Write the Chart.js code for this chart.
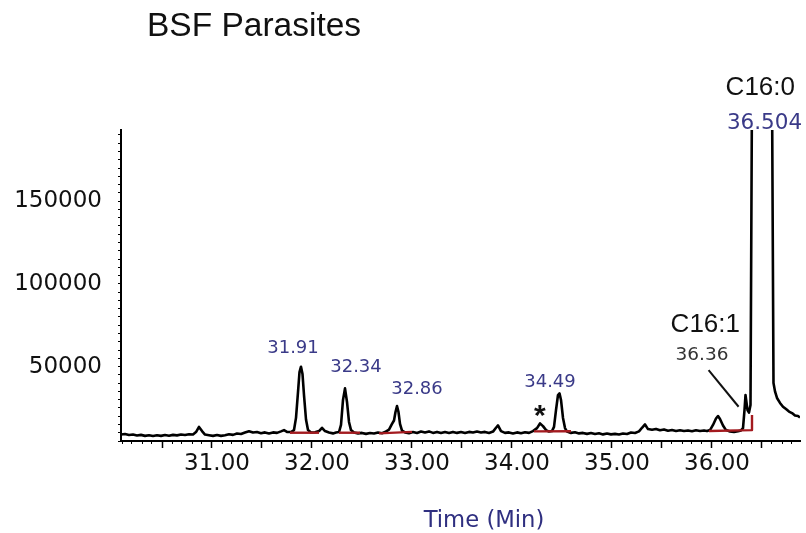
<!DOCTYPE html>
<html>
<head>
<meta charset="utf-8">
<title>BSF Parasites</title>
<script src="https://cdn.jsdelivr.net/npm/chart.js@4"></script>
<style>
  html, body { margin: 0; padding: 0; background: #fff; }
</style>
</head>
<body>
<canvas id="chromChart" width="806" height="533"></canvas>
<script>
// Chromatogram trace: retention time (min) and abundance
const chromTime = [
    30.09, 30.13, 30.17, 30.21, 30.25, 30.29, 30.33, 30.37, 30.41, 30.45,
    30.49, 30.53, 30.57, 30.61, 30.65, 30.69, 30.73, 30.77, 30.81, 30.84,
    30.87, 30.90, 30.93, 30.97, 31.01, 31.05, 31.09, 31.13, 31.17, 31.21,
    31.25, 31.29, 31.33, 31.37, 31.41, 31.45, 31.49, 31.53, 31.57, 31.61,
    31.65, 31.69, 31.72, 31.75, 31.79, 31.82, 31.84, 31.86, 31.875, 31.89,
    31.905, 31.92, 31.94, 31.96, 31.99, 32.03, 32.07, 32.10, 32.13, 32.17,
    32.21, 32.24, 32.27, 32.29, 32.31, 32.33, 32.35, 32.37, 32.39, 32.42,
    32.46, 32.50, 32.54, 32.58, 32.62, 32.66, 32.70, 32.73, 32.77, 32.80,
    32.82, 32.835, 32.85, 32.865, 32.88, 32.90, 32.93, 32.97, 33.01, 33.05,
    33.09, 33.13, 33.17, 33.21, 33.25, 33.29, 33.33, 33.37, 33.41, 33.45,
    33.49, 33.53, 33.57, 33.61, 33.65, 33.69, 33.73, 33.77, 33.81, 33.84,
    33.86, 33.89, 33.93, 33.97, 34.01, 34.05, 34.09, 34.13, 34.17, 34.21,
    34.25, 34.28, 34.31, 34.34, 34.37, 34.40, 34.42, 34.44, 34.46, 34.475,
    34.49, 34.51, 34.53, 34.55, 34.59, 34.63, 34.67, 34.71, 34.75, 34.79,
    34.83, 34.87, 34.91, 34.95, 34.99, 35.03, 35.07, 35.11, 35.15, 35.19,
    35.23, 35.27, 35.30, 35.33, 35.36, 35.40, 35.44, 35.48, 35.52, 35.56,
    35.60, 35.64, 35.68, 35.72, 35.76, 35.80, 35.84, 35.88, 35.92, 35.95,
    35.98, 36.01, 36.04, 36.06, 36.08, 36.11, 36.14, 36.18, 36.22, 36.26,
    36.29, 36.31, 36.325, 36.335, 36.355, 36.37, 36.385, 36.40, 36.45, 36.50,
    36.55, 36.60, 36.615, 36.63, 36.65, 36.68, 36.71, 36.74, 36.77, 36.80,
    36.83, 36.86, 36.88
];
const chromAbundance = [
    8900, 9200, 8600, 8900, 8300, 8700, 8100, 8500, 8000, 8500,
    8100, 8600, 8200, 8700, 8400, 8900, 8600, 9100, 8900, 10400,
    13500, 11000, 8900, 8500, 8100, 8600, 8100, 8500, 9100, 8700,
    9500, 9200, 10100, 10900, 10100, 10400, 9700, 10200, 9600, 10200,
    9900, 10800, 11600, 10500, 10400, 11600, 19000, 34600, 46700, 49900,
    45500, 32700, 18000, 11600, 10100, 10300, 11000, 13000, 11000, 10100,
    9600, 10100, 10400, 14700, 29800, 36800, 28600, 16500, 11600, 10100,
    9600, 9900, 9300, 9800, 9500, 10100, 9700, 10400, 11900, 15300,
    17400, 22500, 26100, 22500, 15300, 11300, 10200, 9700, 10400, 9800,
    10700, 10100, 10800, 9900, 10500, 9800, 10400, 9800, 10500, 9900,
    10400, 9800, 10500, 10100, 10700, 10100, 10500, 9900, 10700, 13000,
    14400, 11000, 9900, 10200, 9600, 10200, 9700, 10300, 9900, 11000,
    12800, 15600, 14000, 11600, 10700, 11000, 13500, 23700, 32800, 33800,
    29800, 18900, 12800, 10700, 9900, 10300, 9600, 9900, 9300, 9800,
    9200, 9700, 9000, 9500, 9000, 9300, 8900, 9500, 9200, 10100,
    9800, 10800, 13000, 15000, 12200, 11800, 12300, 11500, 12000, 11200,
    11600, 11000, 11500, 11000, 11400, 10900, 11500, 11000, 11400, 11000,
    11600, 14700, 18600, 20100, 18300, 14400, 11600, 10800, 10400, 10900,
    11400, 12800, 23700, 32800, 23700, 22200, 26700, 220000, 900000, 1250000,
    900000, 220000, 40000, 35000, 31000, 28000, 25700, 24300, 22800, 21900,
    20400, 20100, 19200
];

// Integration baselines (red), one [times, abundances] pair per peak group
const baselineTimes = [
    [31.78, 32.07],
    [32.27, 32.48],
    [32.67, 33.00],
    [34.22, 34.59],
    [35.97, 36.40, 36.40]
];
const baselineValues = [
    [10000, 10000],
    [10000, 10000],
    [9600, 10500],
    [10800, 10900],
    [11000, 11600, 20700]
];

// Axis ranges and ticks
const timeMin = 30.09, timeMax = 36.88;
const abundanceMin = 5000, abundanceMax = 193000;
const yTickValues = [
    5000, 10000, 15000, 20000, 25000, 30000, 35000, 40000, 45000, 50000,
    55000, 60000, 65000, 70000, 75000, 80000, 85000, 90000, 95000, 100000,
    105000, 110000, 115000, 120000, 125000, 130000, 135000, 140000, 145000, 150000,
    155000, 160000, 165000, 170000, 175000, 180000, 185000, 190000
];
const yLabelValues = [50000, 100000, 150000];

// Peak annotations: [text, time, abundance] at the centre of the text
const peakLabels = [
    ['31.91', 31.81, 62000],
    ['32.34', 32.44, 50600],
    ['32.86', 33.05, 37600],
    ['34.49', 34.38, 41400]
];
const mainPeakLabel = ['36.504', 36.525, 198200];
const compoundLabels = [
    ['C16:0', 36.483, 219600],
    ['C16:1', 35.933, 76600]
];
const minorPeakLabel = ['36.36', 35.90, 58200];
const markerLabel = ['*', 34.278, 21900];
const leaderLine = [[35.966, 47900], [36.266, 25700]];

function toPoints(times, values) {
    return times.map((t, i) => ({ x: t, y: values[i] }));
}

// Draws the hand-placed labels of the original figure
const notesPlugin = {
    id: 'chromNotes',
    afterDatasetsDraw(chart) {
        const ctx = chart.ctx;
        const xs = chart.scales.x;
        const ys = chart.scales.y;

        function text(str, t, v, family, size, color, weight, capRatio) {
            ctx.font = (weight || 'normal') + ' ' + size + 'px "' + family + '"';
            ctx.fillStyle = color;
            ctx.textAlign = 'center';
            ctx.textBaseline = 'alphabetic';
            ctx.fillText(str, xs.getPixelForValue(t), ys.getPixelForValue(v) + size * capRatio / 2);
        }

        ctx.save();
        peakLabels.forEach(p => text(p[0], p[1], p[2], 'DejaVu Sans', 18, '#3a3a88', 'normal', 0.73));
        text(mainPeakLabel[0], mainPeakLabel[1], mainPeakLabel[2], 'DejaVu Sans', 21.5, '#3a3a88', 'normal', 0.73);
        compoundLabels.forEach(p => text(p[0], p[1], p[2], 'Liberation Sans', 26, '#111', 'normal', 0.716));
        text(minorPeakLabel[0], minorPeakLabel[1], minorPeakLabel[2], 'DejaVu Sans', 18.5, '#333', 'normal', 0.73);
        text(markerLabel[0], markerLabel[1], markerLabel[2], 'Liberation Sans', 30, '#111', 'bold', 0.8);

        ctx.strokeStyle = '#111';
        ctx.lineWidth = 2;
        ctx.beginPath();
        ctx.moveTo(xs.getPixelForValue(leaderLine[0][0]), ys.getPixelForValue(leaderLine[0][1]));
        ctx.lineTo(xs.getPixelForValue(leaderLine[1][0]), ys.getPixelForValue(leaderLine[1][1]));
        ctx.stroke();

        // chart title and axis title
        ctx.fillStyle = '#111';
        ctx.font = '33.5px "Liberation Sans"';
        ctx.textAlign = 'left';
        ctx.textBaseline = 'alphabetic';
        ctx.fillText('BSF Parasites', 147, 36);

        ctx.fillStyle = '#2f2f80';
        ctx.font = '22.7px "DejaVu Sans"';
        ctx.textAlign = 'center';
        ctx.fillText('Time (Min)', 484, 527);
        ctx.restore();
    }
};

const datasets = [{
    label: 'TIC',
    data: toPoints(chromTime, chromAbundance),
    borderColor: '#000',
    borderWidth: 2.6,
    order: 2
}];
baselineTimes.forEach((times, i) => {
    datasets.push({
        label: 'baseline ' + (i + 1),
        data: toPoints(times, baselineValues[i]),
        borderColor: '#a31a1f',
        borderWidth: 2.4,
        order: 1
    });
});

const tickFont = { family: 'DejaVu Sans', size: 23 };

new Chart(document.getElementById('chromChart').getContext('2d'), {
    type: 'line',
    data: { datasets: datasets },
    options: {
        responsive: false,
        animation: false,
        layout: { padding: { top: 130, right: 6, left: 0, bottom: 0 } },
        elements: {
            point: { radius: 0 },
            line: { tension: 0, borderJoinStyle: 'round' }
        },
        plugins: {
            legend: { display: false },
            tooltip: { enabled: false },
            title: { display: false }
        },
        scales: {
            x: {
                type: 'linear',
                position: 'bottom',
                min: timeMin,
                max: timeMax,
                afterFit: scale => { scale.height = 92; },
                border: { color: '#000', width: 2 },
                grid: { drawOnChartArea: false, tickLength: 7, tickColor: '#000', tickWidth: 1.5 },
                ticks: {
                    stepSize: 0.5,
                    includeBounds: false,
                    autoSkip: false,
                    maxRotation: 0,
                    minRotation: 0,
                    padding: 2,
                    labelOffset: 5,
                    color: '#111',
                    font: tickFont,
                    callback: v => Math.abs(v - Math.round(v)) < 1e-6 ? v.toFixed(2) : ''
                }
            },
            xMinor: {
                type: 'linear',
                axis: 'x',
                position: { y: abundanceMin },
                min: timeMin,
                max: timeMax,
                border: { display: false },
                grid: { drawOnChartArea: false, tickLength: 3, tickColor: '#000', tickWidth: 1 },
                ticks: { display: false, stepSize: 0.1, includeBounds: false, autoSkip: false }
            },
            y: {
                type: 'linear',
                min: abundanceMin,
                max: abundanceMax,
                afterFit: scale => { scale.width = 121; },
                afterBuildTicks: scale => { scale.ticks = yTickValues.map(v => ({ value: v })); },
                border: { color: '#000', width: 2 },
                grid: { drawOnChartArea: false, tickLength: 3, tickColor: '#000', tickWidth: 1.2 },
                ticks: {
                    autoSkip: false,
                    padding: 16,
                    color: '#111',
                    font: tickFont,
                    callback: v => yLabelValues.includes(v) ? String(v) : ''
                }
            }
        }
    },
    plugins: [notesPlugin]
});
</script>
</body>
</html>
